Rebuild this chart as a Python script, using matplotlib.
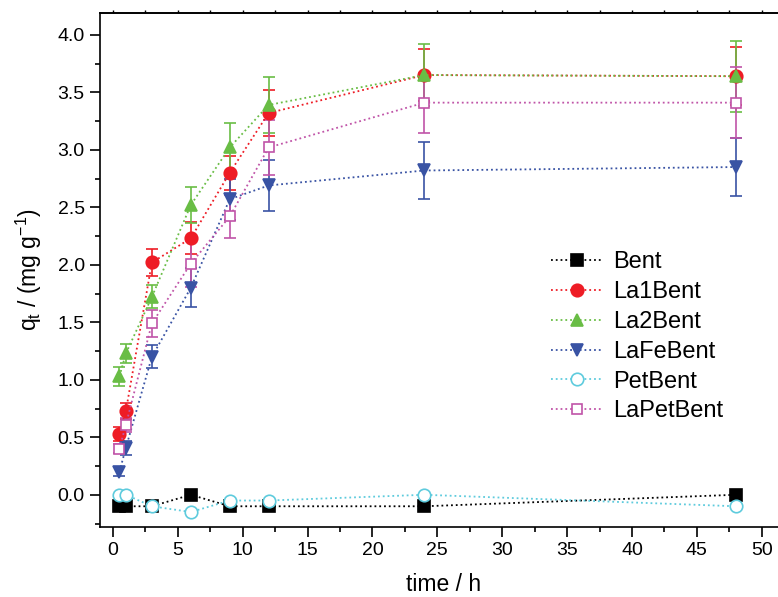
import matplotlib
matplotlib.use("Agg")
import matplotlib.pyplot as plt
from matplotlib.ticker import MultipleLocator, FormatStrFormatter

plt.rcParams["font.family"] = ["Liberation Sans", "DejaVu Sans"]
plt.rcParams["mathtext.default"] = "regular"

time_h = [0.5, 1, 3, 6, 9, 12, 24, 48]

bent = [-0.10, -0.10, -0.10, 0.00, -0.10, -0.10, -0.10, 0.00]
la1bent = [0.53, 0.73, 2.02, 2.23, 2.80, 3.32, 3.65, 3.64]
la1bent_err = [0.06, 0.07, 0.12, 0.14, 0.15, 0.20, 0.23, 0.25]
la2bent = [1.03, 1.23, 1.72, 2.52, 3.02, 3.39, 3.65, 3.64]
la2bent_err = [0.08, 0.08, 0.10, 0.16, 0.21, 0.24, 0.27, 0.31]
lafebent = [0.20, 0.41, 1.20, 1.80, 2.57, 2.69, 2.82, 2.85]
lafebent_err = [0.04, 0.06, 0.10, 0.17, 0.18, 0.22, 0.25, 0.25]
petbent = [0.00, 0.00, -0.10, -0.15, -0.05, -0.05, 0.00, -0.10]
lapetbent = [0.40, 0.61, 1.49, 2.01, 2.42, 3.02, 3.41, 3.41]
lapetbent_err = [0.04, 0.06, 0.12, 0.20, 0.19, 0.24, 0.26, 0.31]

series = [
    ("Bent", bent, None, "s", "#000000", True),
    ("La1Bent", la1bent, la1bent_err, "o", "#ee1c25", True),
    ("La2Bent", la2bent, la2bent_err, "^", "#69bd45", True),
    ("LaFeBent", lafebent, lafebent_err, "v", "#3953a4", True),
    ("PetBent", petbent, None, "o", "#5ecbdd", False),
    ("LaPetBent", lapetbent, lapetbent_err, "s", "#c054a8", False),
]

fig = plt.figure(figsize=(7.78, 5.97), dpi=100)
ax = fig.add_axes([0.1285, 0.1173, 0.884, 0.861])

for name, vals, err, mk, col, filled in series:
    ms = 8 if mk == "s" else 9
    if mk == "s" and not filled:
        ms = 7.5
    ax.errorbar(time_h, vals, yerr=err, color=col, ls=":", lw=1.3,
                marker=mk, ms=ms, mfc=col if filled else "white",
                mec=col, mew=1.2, capsize=4.3, elinewidth=1.2,
                capthick=1.2, label=name)

ax.set_xlim(-1, 52)
ax.set_ylim(-0.28, 4.19)
ax.xaxis.set_major_locator(MultipleLocator(5))
ax.xaxis.set_minor_locator(MultipleLocator(2.5))
ax.yaxis.set_major_locator(MultipleLocator(0.5))
ax.yaxis.set_minor_locator(MultipleLocator(0.25))
ax.yaxis.set_major_formatter(FormatStrFormatter("%.1f"))
ax.tick_params(which="major", direction="out", length=7, width=1.2,
               labelsize=14, pad=4)
ax.tick_params(which="minor", direction="out", length=3.5, width=1.2)
for s in ax.spines.values():
    s.set_linewidth(1.2)
ax.spines["right"].set_visible(False)

top = ax.secondary_xaxis("top")
top.xaxis.set_major_locator(MultipleLocator(2.5))
top.tick_params(direction="out", length=2, width=1, labeltop=False)
top.spines["top"].set_linewidth(1.2)

ax.set_xlabel("time / h", fontsize=16.5, labelpad=10)
ax.set_ylabel("q$_t$ / (mg g$^{-1}$)", fontsize=16.5, labelpad=10)

handles, labels = ax.get_legend_handles_labels()
handles = [h[0] for h in handles]
ax.legend(handles, labels, loc="upper left", bbox_to_anchor=(0.6555, 0.536),
          frameon=False, fontsize=17, numpoints=1, handlelength=2.2,
          handletextpad=0.42, labelspacing=0.33, borderpad=0,
          borderaxespad=0)

fig.savefig("out.png", dpi=100)
